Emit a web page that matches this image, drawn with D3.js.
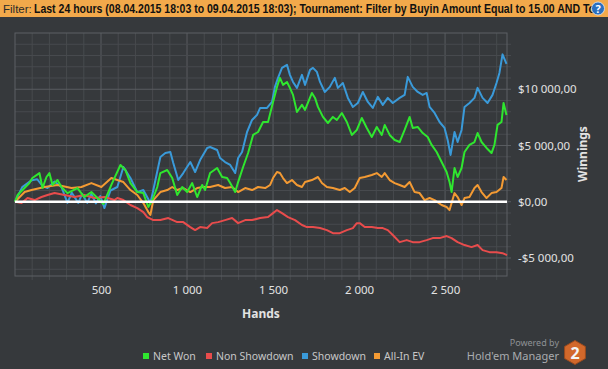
<!DOCTYPE html>
<html lang="en">
<head>
<meta charset="UTF-8">
<script src="https://cdn.jsdelivr.net/npm/d3@7"></script>
<title>Winnings</title>
<style>
  html, body { margin: 0; padding: 0; background: #36393c; overflow: hidden; }
  svg { display: block; font-family: "Noto Sans", "Open Sans", sans-serif; }
</style>
</head>
<body>
<svg id="chart" width="608" height="369"></svg>
<script>
// values: [hand, winnings $]
var netWon = [[0,0],[15,600],[84,1660],[101,2110],[142,2550],[160,1220],[183,2200],[200,2550],[218,1490],[247,1930],[270,1310],[305,770],[363,1220],[403,420],[444,860],[479,330],[514,-200],[560,1500],[613,3270],[642,2820],[671,1660],[711,860],[746,770],[775,-470],[798,150],[827,1310],[845,2550],[885,2820],[914,2110],[943,600],[972,1310],[1001,860],[1030,1660],[1059,420],[1088,1490],[1105,1040],[1134,2550],[1175,3000],[1204,2200],[1233,2110],[1251,1660],[1280,860],[1297,1750],[1326,3090],[1355,4330],[1384,5940],[1413,6200],[1442,7090],[1471,7090],[1500,8870],[1523,10210],[1540,11010],[1558,10390],[1581,10650],[1598,10120],[1616,9500],[1639,7980],[1668,8610],[1686,8160],[1726,9670],[1744,9230],[1761,8430],[1790,7540],[1819,7000],[1848,7540],[1871,7270],[1900,7890],[1929,7090],[1958,5940],[1987,6380],[2016,7450],[2045,6560],[2074,5760],[2103,6650],[2132,5940],[2149,6830],[2178,5940],[2207,5490],[2236,5310],[2265,6380],[2294,7540],[2312,6560],[2341,6650],[2370,6110],[2399,5760],[2422,5050],[2451,4420],[2480,3530],[2509,2640],[2526,1750],[2538,860],[2555,3000],[2573,2200],[2596,3000],[2613,4420],[2642,5050],[2671,5310],[2689,6110],[2712,5310],[2741,4780],[2770,4330],[2787,5050],[2805,6830],[2828,7090],[2840,8780],[2857,7720]];

var nonShowdown = [[0,0],[38,-120],[73,330],[114,150],[154,420],[189,600],[230,770],[288,600],[346,420],[403,600],[462,330],[520,420],[578,150],[595,330],[630,150],[671,-290],[711,-560],[746,-920],[769,-1360],[804,-1630],[845,-1630],[891,-1450],[943,-1810],[978,-1810],[1019,-2250],[1047,-2520],[1076,-2250],[1117,-2340],[1146,-1900],[1181,-1810],[1221,-1630],[1262,-1450],[1297,-1900],[1338,-1630],[1378,-1630],[1425,-1450],[1471,-1360],[1500,-1010],[1523,-740],[1552,-1010],[1587,-1360],[1628,-1630],[1668,-2070],[1697,-2250],[1732,-2250],[1773,-2340],[1813,-2520],[1848,-2790],[1888,-2790],[1929,-2520],[1964,-2340],[1987,-1900],[2004,-1900],[2033,-2250],[2074,-2250],[2109,-2340],[2138,-2340],[2167,-2520],[2196,-2960],[2236,-3590],[2277,-3410],[2312,-3590],[2352,-3590],[2393,-3410],[2428,-3230],[2468,-3230],[2509,-3050],[2538,-3230],[2573,-3590],[2613,-3850],[2654,-4030],[2689,-3850],[2718,-4300],[2758,-4480],[2799,-4480],[2834,-4570],[2860,-4750]];

var showdown = [[0,0],[42,1300],[96,1900],[129,2000],[160,1400],[189,1220],[230,1800],[270,1310],[305,-100],[330,800],[368,-100],[390,700],[420,-100],[444,700],[470,-150],[496,500],[520,-560],[555,1000],[595,1310],[630,3090],[671,2110],[711,860],[746,1040],[787,-120],[804,1040],[845,3980],[874,4330],[903,4420],[920,3440],[949,1930],[978,2550],[1019,3530],[1047,2640],[1076,3710],[1117,4780],[1134,4870],[1175,4600],[1192,3890],[1221,3530],[1251,3270],[1280,2550],[1297,3890],[1320,4420],[1349,6200],[1378,7270],[1407,7720],[1425,8340],[1465,8340],[1494,8870],[1511,10210],[1529,11010],[1552,11900],[1581,12170],[1598,11280],[1616,10650],[1639,10120],[1668,11280],[1686,10390],[1715,11720],[1732,11900],[1755,11540],[1773,10650],[1801,9760],[1830,10210],[1859,11010],[1877,10120],[1906,10560],[1935,9230],[1964,8430],[1993,8780],[2022,9760],[2051,8870],[2080,8340],[2109,9320],[2138,8610],[2167,9230],[2196,8780],[2236,9230],[2265,9500],[2283,11100],[2312,10210],[2341,9760],[2370,9500],[2393,9670],[2410,8430],[2439,7890],[2468,7090],[2497,6560],[2515,5490],[2532,4160],[2555,6200],[2573,5310],[2596,6380],[2613,8430],[2642,8780],[2671,9230],[2689,10120],[2718,9230],[2747,8780],[2776,9500],[2799,10560],[2816,11450],[2834,13100],[2857,12250]];

var allInEV = [[0,0],[56,860],[96,1040],[172,1310],[247,1490],[328,1220],[386,1310],[444,1660],[502,1310],[560,2110],[595,1930],[630,1750],[671,1040],[711,600],[746,-120],[775,-920],[787,-1180],[804,150],[845,860],[885,1040],[914,1310],[943,1040],[978,1220],[1019,860],[1059,1220],[1094,1310],[1134,1310],[1181,1490],[1221,1220],[1262,1310],[1297,860],[1338,1220],[1378,1040],[1413,1310],[1454,1220],[1483,1490],[1500,2110],[1523,2640],[1540,2550],[1558,2110],[1581,1660],[1610,1930],[1639,1490],[1668,1310],[1686,1750],[1726,1930],[1761,2200],[1784,1660],[1813,1310],[1848,1220],[1888,1040],[1917,1220],[1946,860],[1975,1220],[2004,2110],[2033,2200],[2074,2380],[2103,2550],[2132,2200],[2149,2550],[2178,1930],[2207,1660],[2236,1490],[2265,1310],[2294,1750],[2323,860],[2352,770],[2381,150],[2410,330],[2439,150],[2480,-290],[2509,-470],[2526,-740],[2555,770],[2573,420],[2596,-290],[2613,330],[2642,420],[2671,1220],[2689,1490],[2712,860],[2741,330],[2770,770],[2799,860],[2828,1220],[2840,2200],[2857,1930]];

var xTicks = [500, 1000, 1500, 2000, 2500];
var yTicks = [-5000, 0, 5000, 10000];
var legendNames = ["Net Won", "Non Showdown", "Showdown", "All-In EV"];
var legendColors = ["#2fe62f", "#e84c4c", "#3a9ad9", "#f39a33"];

var svg = d3.select("#chart");

var x = d3.scaleLinear().domain([0, 2860]).range([15, 507]);
var y = d3.scaleLinear().domain([-6600, 15000]).range([276, 33]);

// header bar
svg.append("rect").attr("x", 0).attr("y", 0).attr("width", 608).attr("height", 17).attr("fill", "#f2a94b");
svg.append("text").attr("x", 3).attr("y", 13).style("font-family", "'Liberation Sans', sans-serif")
  .style("font-size", "11.5px").attr("fill", "#2a2a2a").text("Filter:");
svg.append("text").attr("x", 34).attr("y", 13).style("font-family", "'Liberation Sans', sans-serif")
  .style("font-size", "12px").style("font-weight", "bold").attr("fill", "#111")
  .attr("textLength", 561).attr("lengthAdjust", "spacingAndGlyphs")
  .text("Last 24 hours (08.04.2015 18:03 to 09.04.2015 18:03); Tournament: Filter by Buyin Amount Equal to 15.00 AND To");
svg.append("circle").attr("cx", 598).attr("cy", 8.5).attr("r", 6.5).attr("fill", "#2b6fbf").attr("stroke", "#dce8f5").attr("stroke-width", 0.8);
svg.append("text").attr("x", 598).attr("y", 12.5).attr("text-anchor", "middle")
  .style("font-size", "11px").style("font-weight", "bold").attr("fill", "#fff").text("?");

// grid
var vMinor = d3.range(100, 2860, 100);
var hMinor = d3.range(-6000, 15000, 1000);

svg.append("g").selectAll("line").data(vMinor).enter().append("line")
  .attr("x1", d => x(d)).attr("x2", d => x(d)).attr("y1", 33).attr("y2", 280)
  .attr("stroke", d => d % 500 == 0 ? "#595c60" : "#474a4e").attr("stroke-width", 1);

svg.append("g").selectAll("line").data(hMinor).enter().append("line")
  .attr("x1", 15).attr("x2", 511).attr("y1", d => y(d)).attr("y2", d => y(d))
  .attr("stroke", d => d % 5000 == 0 ? "#595c60" : "#474a4e").attr("stroke-width", 1);

// plot border
svg.append("rect").attr("x", 15).attr("y", 33).attr("width", 492).attr("height", 243)
  .attr("fill", "none").attr("stroke", "#5d6064").attr("stroke-width", 1);

var line = d3.line().x(d => x(d[0])).y(d => y(d[1]));

[[showdown, legendColors[2]], [allInEV, legendColors[3]], [nonShowdown, legendColors[1]], [netWon, legendColors[0]]]
  .forEach(function(s) {
    svg.append("path").datum(s[0]).attr("fill", "none").attr("stroke", s[1])
      .attr("stroke-width", 2).attr("stroke-linejoin", "round").attr("d", line);
  });

// zero line
svg.append("line").attr("x1", 15).attr("x2", 507).attr("y1", y(0)).attr("y2", y(0))
  .attr("stroke", "#ffffff").attr("stroke-width", 2.5);

// axes
function money(v) {
  return (v < 0 ? "-" : "") + "$" + d3.format(",.2f")(Math.abs(v)).replace(/,/g, " ").replace(".", ",");
}

var yAxis = svg.append("g").attr("transform", "translate(507,0)")
  .call(d3.axisRight(y).tickValues(yTicks).tickSize(0).tickPadding(11).tickFormat(money));
yAxis.select(".domain").remove();
yAxis.selectAll("text").attr("fill", "#e2e2e2").style("font-size", "11.5px").style("font-family", "'Noto Sans', sans-serif");

var xAxis = svg.append("g").attr("transform", "translate(0,276)")
  .call(d3.axisBottom(x).tickValues(xTicks).tickSize(0).tickPadding(10)
    .tickFormat(d => d3.format(",")(d).replace(/,/g, " ")));
xAxis.select(".domain").remove();
xAxis.selectAll("text").attr("fill", "#e2e2e2").style("font-size", "11.5px").style("font-family", "'Noto Sans', sans-serif");

svg.append("text").attr("x", 261).attr("y", 318).attr("text-anchor", "middle")
  .style("font-size", "12px").style("font-weight", "bold").attr("fill", "#e2e2e2").text("Hands");

svg.append("text").attr("transform", "translate(587,154) rotate(-90)").attr("text-anchor", "middle")
  .style("font-size", "12px").style("font-weight", "bold").attr("fill", "#e2e2e2").text("Winnings");

// legend
var legendX = [143, 206, 302, 374];
legendNames.forEach(function(name, i) {
  svg.append("rect").attr("x", legendX[i]).attr("y", 353).attr("width", 6).attr("height", 6).attr("fill", legendColors[i]);
  svg.append("text").attr("x", legendX[i] + 10).attr("y", 360)
    .style("font-size", "10.5px").attr("fill", "#c8c8c8").text(name);
});

// branding
svg.append("text").attr("x", 559).attr("y", 345.5).attr("text-anchor", "end")
  .style("font-size", "9px").attr("fill", "#8e9195").text("Powered by");
svg.append("text").attr("x", 559).attr("y", 360).attr("text-anchor", "end")
  .style("font-size", "11px").attr("fill", "#a9acaf").text("Hold'em Manager");

var hex = d3.range(6).map(function(k) {
  var a = Math.PI / 180 * (60 * k - 90);
  return [575 + 12 * Math.cos(a), 352.5 + 12 * Math.sin(a)];
});
svg.append("path").attr("d", "M" + hex.join("L") + "Z").attr("fill", "#d2682b").attr("stroke", "#9a4a1e").attr("stroke-width", 1);
svg.append("text").attr("x", 575).attr("y", 358.5).attr("text-anchor", "middle")
  .style("font-size", "16px").style("font-weight", "bold").attr("fill", "#f4f4f4").text("2");
</script>
</body>
</html>
